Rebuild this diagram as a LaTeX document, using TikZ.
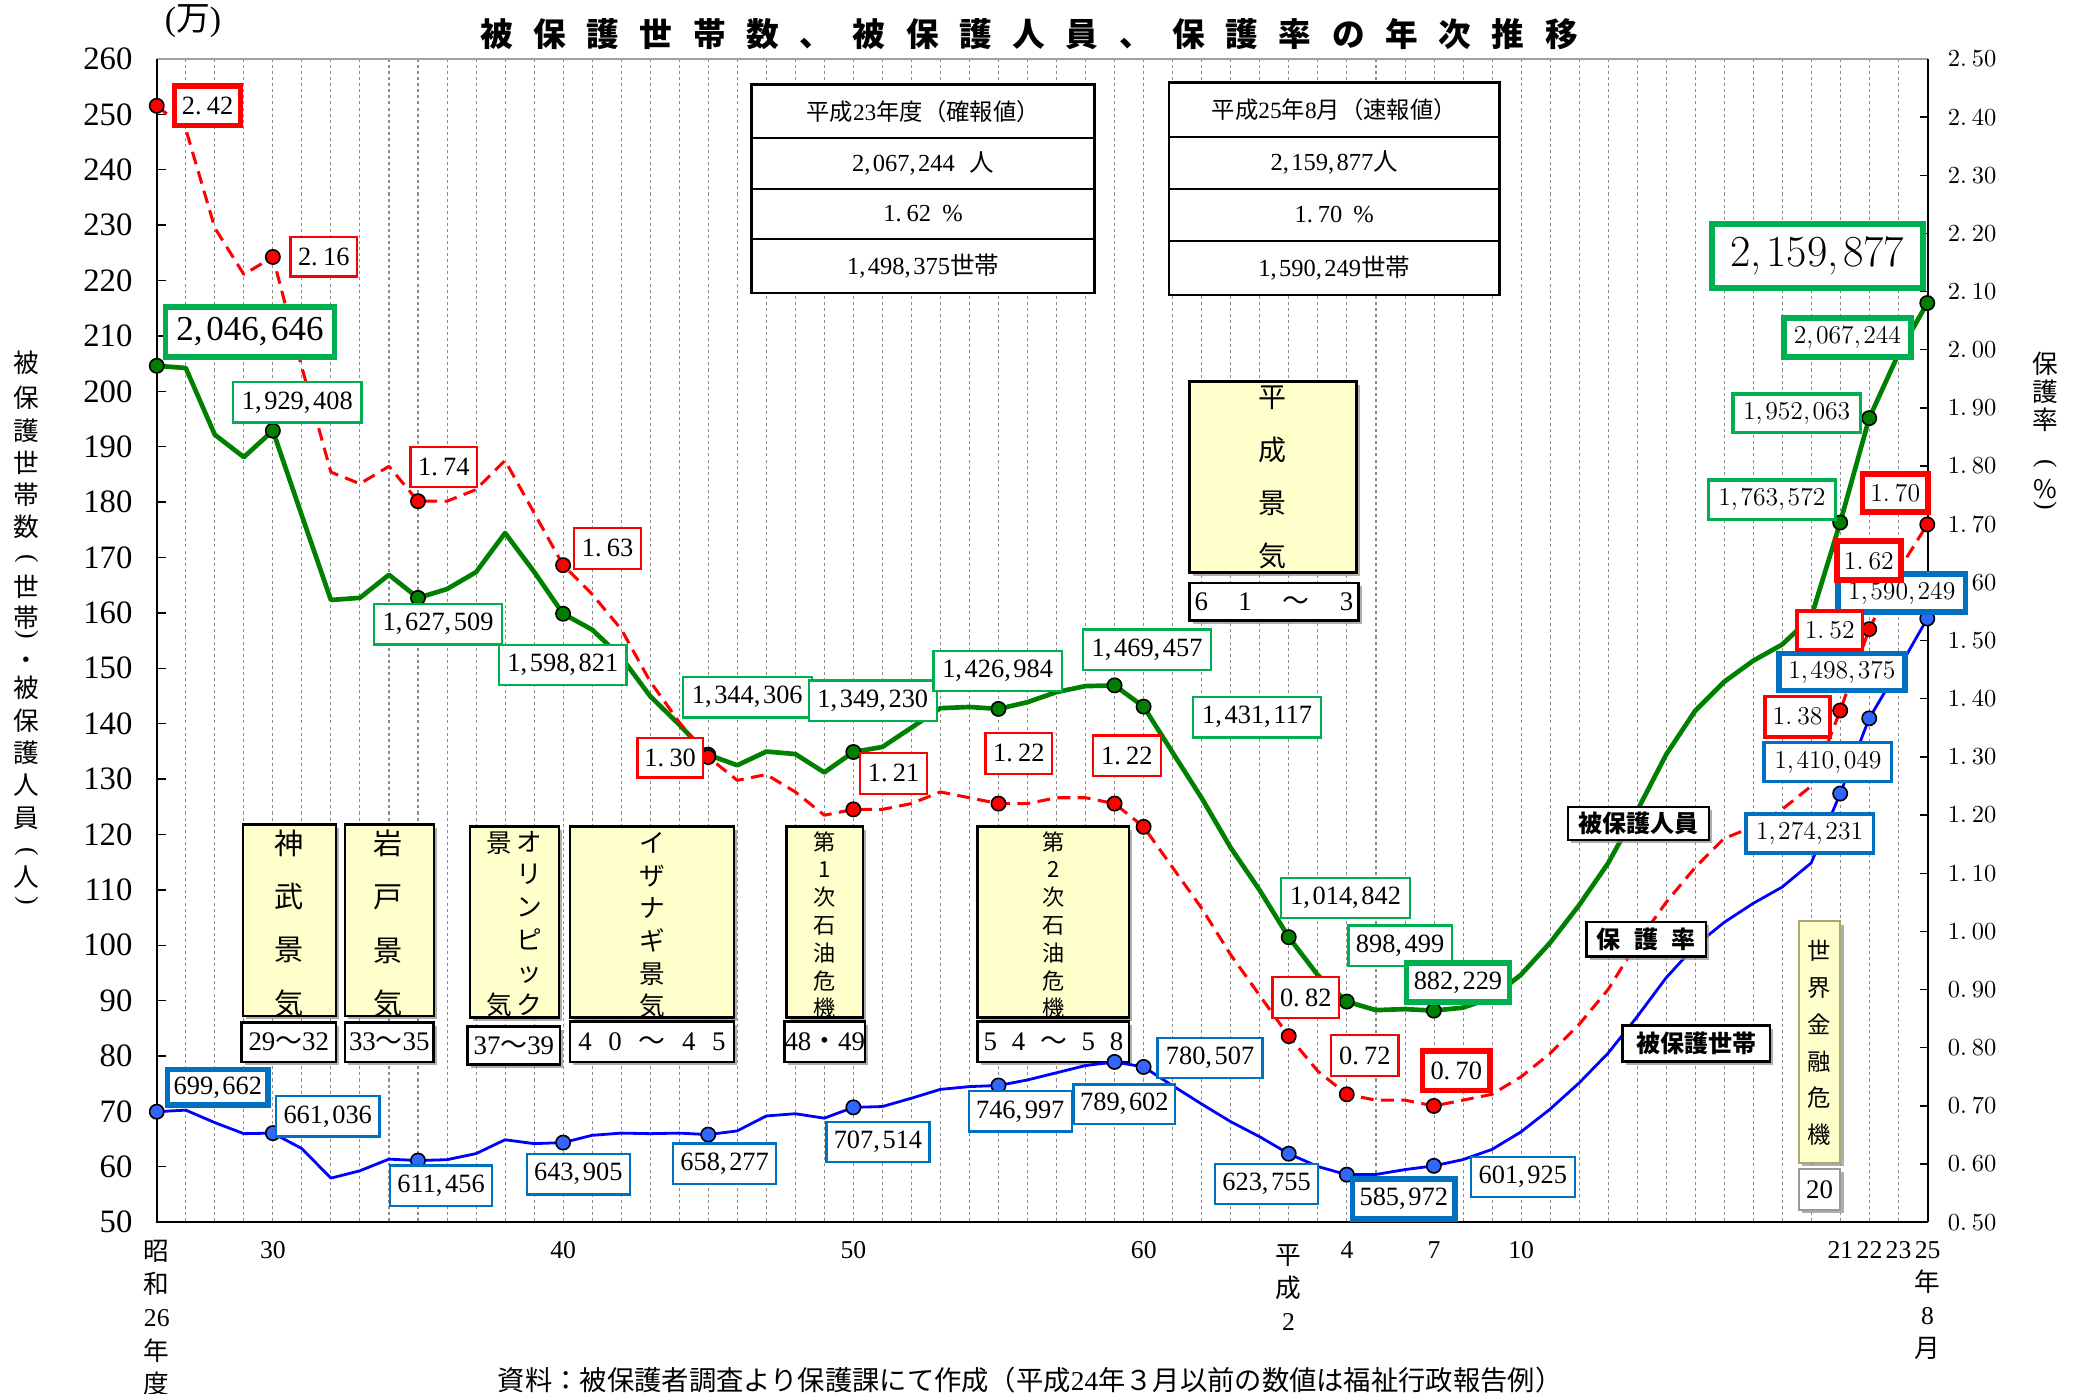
\documentclass[tikz,border=0pt]{standalone}
\usepackage{fontspec}
\usepackage{graphicx}
\usetikzlibrary{shadows}
\newfontfamily\jp{Noto Sans CJK JP}
\newfontfamily\lib{Liberation Serif}
\definecolor{gline}{HTML}{008000}
\definecolor{gbox}{HTML}{00B050}
\definecolor{rline}{HTML}{FF0000}
\definecolor{bline}{HTML}{0000FF}
\definecolor{bmark}{HTML}{3366FF}
\definecolor{bbox}{HTML}{0070C0}
\definecolor{ybox}{HTML}{FFFFCC}
\definecolor{gridc}{HTML}{8C8C8C}
\definecolor{framec}{HTML}{A0A0A0}
\definecolor{olivec}{HTML}{A8A870}
\newcommand{\cmk}{,\kern.1em}
\newcommand{\dtk}{.\kern.2em}
\newcommand{\vpa}{\rotatebox[origin=c]{-90}{\lib(}}
\newcommand{\vpb}{\rotatebox[origin=c]{-90}{\lib)}}
\tikzset{
  px/.style 2 args={minimum width={(#1)*0.02cm}, minimum height={(#2)*0.02cm}},
  lab/.style={draw, fill=white, inner sep=0pt},
  mf/.style={font=\lib\fontsize{11.3}{13}\selectfont},
  cf/.style={font=\rmfamily\fontsize{11}{13}\selectfont},
  thn/.style={line width=1pt},
  med/.style={line width=1.5pt},
  thk/.style={line width=2.4pt},
  gb/.style={lab, draw=gbox},
  rb/.style={lab, draw=rline},
  bb/.style={lab, draw=bbox},
  shd/.style={drop shadow={shadow xshift=1.4pt, shadow yshift=-1.4pt, fill=black!45, opacity=0.7}},
  ybx/.style={draw=black, line width=1.1pt, fill=ybox, shd, inner sep=0pt},
  pbx/.style={draw=black, line width=1.1pt, fill=white, shd, inner sep=0pt, font=\lib\fontsize{11.5}{13}\selectfont},
  vt/.style={align=center, inner sep=0pt},
  leg/.style={draw=black, line width=1.1pt, fill=white, shd, inner sep=0pt, font=\jp\bfseries\fontsize{10.3}{12}\selectfont},
  tbl/.style={draw=black, line width=1pt, fill=white, inner sep=0pt, font=\lib\fontsize{10.5}{12}\selectfont},
  mk/.style={circle, draw=black, line width=0.7pt, inner sep=0pt, minimum size=0.215cm},
  gmk/.style={mk, fill=gline},
  rmk/.style={mk, fill=rline},
  bmk/.style={mk, fill=bmark},
  gln/.style={draw=gline, line width=2pt, line join=round},
  bln/.style={draw=bline, line width=1.2pt, line join=round},
  rln/.style={draw=rline, line width=1.3pt, dash pattern=on 5.5pt off 3.2pt, line join=round},
  gridl/.style={draw=gridc, line width=0.45pt, dash pattern=on 1.3pt off 1.3pt},
  ylab/.style={anchor=east, inner sep=0pt, font=\lib\fontsize{14}{16}\selectfont},
  rlab/.style={anchor=west, inner sep=0pt, font=\rmfamily\fontsize{10.5}{12}\selectfont},
  xlab/.style={inner sep=0pt, align=center, font=\lib\fontsize{11}{14.2}\selectfont},
  vchar/.style={inner sep=0pt, font=\jp\fontsize{11}{13}\selectfont},
}
\begin{document}
\begin{tikzpicture}[x=0.02cm, y=-0.02cm]
\fill[white] (0,0) rectangle (1568,1048.6);
\useasboundingbox (0,0) rectangle (1568,1048.6);

% grid
\foreach \i in {1,...,60}{\draw[gridl] ({118+21.852*\i},44.4) -- ({118+21.852*\i},920);}

% frame
\draw[framec, line width=0.6pt] (118,44.4) -- (1451,44.4);
\draw[black, line width=0.7pt] (118,44.4) -- (118,920);
\draw[black, line width=0.8pt] (1451,44.4) -- (1451,920);
\draw[black, line width=1.1pt] (117.5,920) -- (1451.5,920);
\foreach \k in {1,...,20}{\draw[line width=0.6pt] (118,{920-41.695*\k}) -- (125,{920-41.695*\k});}
\foreach \k in {1,...,19}{\draw[line width=0.6pt] (1451,{920-43.78*\k}) -- (1445,{920-43.78*\k});}

% axis labels
\foreach \k in {0,...,21}{\pgfmathtruncatemacro\vv{50+10*\k}\node[ylab] (yl\k) at (100,{920-41.695*\k}) {\vv};}
\foreach \k/\a/\b in {0/0/50,1/0/60,2/0/70,3/0/80,4/0/90,5/1/00,6/1/10,7/1/20,8/1/30,9/1/40,10/1/50,11/1/60,12/1/70,13/1/80,14/1/90,15/2/00,16/2/10,17/2/20,18/2/30,19/2/40,20/2/50}{\node[rlab] (rl\k) at (1466,{920-43.78*\k}) {\a\dtk\b};}

\foreach \t/\i in {30/4,40/14,50/24,60/34,4/41,7/44,10/47,21/58,22/59,23/60}{\node[xlab] (x\t) at ({118+21.852*\i},941) {\t};}
\node[xlab] (xs) at (118,992) {{\jp 昭}\\{\jp 和}\\26\\{\jp 年}\\{\jp 度}};
\node[xlab] (xh) at (970,969) {{\jp 平}\\{\jp 成}\\2};
\node[xlab] (xe) at (1451,979) {25\\{\jp 年}\\8\\{\jp 月}};

\foreach \ch/\yy [count=\n] in {被/272.9,保/299.8,護/324.3,世/348.4,帯/372.3,数/396.8,\vpa/421.3,世/441.5,帯/465.1,\vpb/478.9,・/499.1,被/517.8,保/542.3,護/566.8,人/591.3,員/615.8,\vpa/641.7,人/660.4,\vpb/679.1}{\node[vchar] (lt\n) at (20,\yy) {\ch};}
\foreach \ch/\yy [count=\n] in {保/273.5,護/294.9,率/316.2,\vpa/350.1,\%/368.4,\vpb/381.4}{\node[vchar] (rt\n) at (1539.5,\yy) {\ch};}

\node[inner sep=0pt, font=\lib\fontsize{14.5}{16}\selectfont] (man) at (145.3,15.7) {({\jp 万})};
\node[anchor=west, inner sep=0pt, font=\jp\bfseries\fontsize{14}{15}\selectfont\addfontfeature{LetterSpace=63}] (title) at (361,26) {被保護世帯数、被保護人員、保護率の年次推移};
\node[inner sep=0pt, font=\jp\fontsize{11.7}{13}\selectfont] (src) at (775.5,1039) {資料：被保護者調査より保護課にて作成（平成{\lib 24}年３月以前の数値は福祉行政報告例）};

% tables
\node[tbl, font=\lib\fontsize{10}{12}\selectfont, px={258.3}{40.6}] (t1a) at (694.85,83.8) {{\jp 平成}23{\jp 年度（確報値）}};
\node[tbl, px={258.3}{38.2}] (t1b) at (694.85,123.2) {2\cmk067\cmk244\ \kern.35em{\jp 人}};
\node[tbl, px={258.3}{37.6}] (t1c) at (694.85,161.1) {1\dtk62\ \kern.2em\%};
\node[tbl, px={258.3}{40.9}] (t1d) at (694.85,200.35) {1\cmk498\cmk375{\jp 世帯}};
\node[tbl, font=\lib\fontsize{10}{12}\selectfont, px={248.9}{40.7}] (t2a) at (1004.35,82.55) {{\jp 平成}25{\jp 年}8{\jp 月（速報値）}};
\node[tbl, px={248.9}{39.4}] (t2b) at (1004.35,122.6) {2\cmk159\cmk877{\jp 人}};
\node[tbl, px={248.9}{39.1}] (t2c) at (1004.35,161.85) {1\dtk70\ \kern.2em\%};
\node[tbl, px={248.9}{40.6}] (t2d) at (1004.35,201.7) {1\cmk590\cmk249{\jp 世帯}};

% economic periods
\node[ybx, px={70}{144}] (yb1) at (217.85,692.8) {};
\node[vt, font=\jp\fontsize{12.5}{22.8}\selectfont] (yt1) at (217.9,695.1) {神\\武\\景\\気};
\node[ybx, px={67}{144}] (yb2) at (293.05,692.8) {};
\node[vt, font=\jp\fontsize{12.5}{22.8}\selectfont] (yt2) at (292.5,695.1) {岩\\戸\\景\\気};
\node[ybx, px={67}{144}] (yb3) at (387.25,694.1) {};
\node[vt, font=\jp\fontsize{11}{14}\selectfont] (yt3a) at (398.6,695.1) {オ\\リ\\ン\\ピ\\ッ\\ク};
\node[vt, font=\jp\fontsize{11}{69.3}\selectfont] (yt3b) at (376.2,695.8) {景\\気};
\node[ybx, px={123.3}{144}] (yb4) at (490.75,694.1) {};
\node[vt, font=\jp\fontsize{11}{14}\selectfont] (yt4) at (490.7,696.4) {イ\\ザ\\ナ\\ギ\\景\\気};
\node[ybx, px={57.7}{144}] (yb5) at (620.85,694.1) {};
\node[vt, font=\jp\fontsize{9.5}{11.9}\selectfont] (yt5) at (620.8,696.3) {第\\1\\次\\石\\油\\危\\機};
\node[ybx, px={114}{144}] (yb6) at (793,694.1) {};
\node[vt, font=\jp\fontsize{9.5}{11.9}\selectfont] (yt6) at (793,696.3) {第\\2\\次\\石\\油\\危\\機};
\node[ybx, px={126}{144}] (yb7) at (958.2,359) {};
\node[vt, font=\jp\fontsize{12}{22.6}\selectfont] (yt7) at (958,359.4) {平\\成\\景\\気};
\node[ybx, draw=olivec, line width=0.7pt, px={31}{182}] (yb8) at (1369.75,784.5) {};
\node[vt, font=\jp\fontsize{10}{15.8}\selectfont] (yt8) at (1369.7,785) {世\\界\\金\\融\\危\\機};

\node[pbx, px={71}{30}] (p1) at (217.4,784.5) {29{\jp ～}32};
\node[pbx, px={66.7}{30}] (p2) at (293.05,784.5) {33{\jp ～}35};
\node[pbx, px={69.4}{28.6}] (p3) at (386.8,786.9) {37{\jp ～}39};
\node[pbx, px={123.3}{30.5}] (p4) at (490.75,784.25) {4\hspace{0.62em}0\hspace{0.62em}{\jp ～}\hspace{0.62em}4\hspace{0.62em}5};
\node[pbx, px={57.7}{30.5}] (p5) at (620.85,784.25) {48{\jp ・}49};
\node[pbx, px={114}{30.5}] (p6) at (793,784.25) {5\hspace{0.55em}4\hspace{0.55em}{\jp ～}\hspace{0.55em}5\hspace{0.55em}8};
\node[pbx, px={127.5}{28}] (p7) at (959,453) {6\hspace{1.13em}1\hspace{1.13em}{\jp ～}\hspace{1.15em}3};
\node[pbx, draw=gray!80, line width=0.7pt, px={31}{31}] (p8) at (1369.75,895.45) {20};

% data lines
\begin{scope}[shift={(118,1128.5)}, x=0.43705cm, y=0.08339cm]
\draw[gln] plot coordinates {(0,204.66) (1,204.26) (2,192.21) (3,188.17) (4,192.94) (5,177.60) (6,162.37) (7,162.76) (8,166.92) (9,162.75) (10,164.34) (11,167.40) (12,174.46) (13,167.47) (14,159.88) (15,157.01) (16,152.07) (17,145.00) (18,139.87) (19,134.43) (20,132.52) (21,135.0) (22,134.55) (23,131.23) (24,134.92) (25,135.83) (26,139.31) (27,142.83) (28,143.05) (29,142.70) (30,143.92) (31,145.74) (32,146.82) (33,146.95) (34,143.11) (35,134.82) (36,126.61) (37,117.63) (38,109.95) (39,101.48) (40,94.64) (41,89.85) (42,88.31) (43,88.49) (44,88.22) (45,88.75) (46,90.56) (47,94.70) (48,100.45) (49,107.22) (50,114.81) (51,124.27) (52,134.43) (53,142.34) (54,147.58) (55,151.39) (56,154.33) (57,159.26) (58,176.36) (59,195.21) (60,206.72) (61,215.99)};
\draw[bln] plot coordinates {(0,69.97) (1,70.25) (2,68.0) (3,66.0) (4,66.10) (5,63.3) (6,57.97) (7,59.3) (8,61.4) (9,61.15) (10,61.3) (11,62.4) (12,64.9) (13,64.2) (14,64.39) (15,65.7) (16,66.1) (17,66.0) (18,66.1) (19,65.83) (20,66.5) (21,69.2) (22,69.6) (23,68.8) (24,70.75) (25,70.9) (26,72.4) (27,74.0) (28,74.5) (29,74.70) (30,75.7) (31,77.0) (32,78.3) (33,78.96) (34,78.05) (35,74.66) (36,71.35) (37,68.17) (38,65.44) (39,62.38) (40,60.07) (41,58.60) (42,58.63) (43,59.51) (44,60.19) (45,61.31) (46,63.15) (47,66.31) (48,70.41) (49,75.13) (50,80.52) (51,87.09) (52,94.13) (53,99.89) (54,104.15) (55,107.58) (56,110.53) (57,114.88) (58,127.42) (59,141.00) (60,149.84) (61,159.02)};
\end{scope}
\begin{scope}[shift={(118,1138.9)}, x=0.43705cm, y=8.756cm]
\draw[rln] plot coordinates {(0,2.42) (1,2.38) (2,2.21) (3,2.13) (4,2.16) (5,1.97) (6,1.79) (7,1.77) (8,1.80) (9,1.74) (10,1.74) (11,1.76) (12,1.81) (13,1.72) (14,1.63) (15,1.58) (16,1.52) (17,1.43) (18,1.36) (19,1.30) (20,1.26) (21,1.27) (22,1.24) (23,1.20) (24,1.21) (25,1.21) (26,1.22) (27,1.24) (28,1.23) (29,1.22) (30,1.22) (31,1.23) (32,1.23) (33,1.22) (34,1.18) (35,1.11) (36,1.04) (37,0.96) (38,0.89) (39,0.82) (40,0.76) (41,0.72) (42,0.71) (43,0.71) (44,0.70) (45,0.71) (46,0.72) (47,0.75) (48,0.79) (49,0.84) (50,0.90) (51,0.98) (52,1.05) (53,1.11) (54,1.16) (55,1.18) (56,1.21) (57,1.25) (58,1.38) (59,1.52) (60,1.62) (61,1.70)};
\end{scope}

% markers
\begin{scope}[shift={(118,1128.5)}, x=0.43705cm, y=0.08339cm]
\foreach \i/\v in {0/204.66,4/192.94,9/162.75,14/159.88,19/134.43,24/134.92,29/142.70,33/146.95,34/143.11,39/101.48,41/89.85,44/88.22,58/176.36,59/195.21,61/215.99}{\node[gmk] (gm\i) at (\i,\v) {};}
\foreach \i/\v in {0/69.97,4/66.10,9/61.15,14/64.39,19/65.83,24/70.75,29/74.70,33/78.96,34/78.05,39/62.38,41/58.60,44/60.19,58/127.42,59/141.00,61/159.02}{\node[bmk] (bm\i) at (\i,\v) {};}
\end{scope}
\begin{scope}[shift={(118,1138.9)}, x=0.43705cm, y=8.756cm]
\foreach \i/\v in {0/2.42,4/2.16,9/1.74,14/1.63,19/1.30,24/1.21,29/1.22,33/1.22,34/1.18,39/0.82,41/0.72,44/0.70,58/1.38,59/1.52,61/1.70}{\node[rmk] (rm\i) at (\i,\v) {};}
\end{scope}

% blue labels
\node[bb, thk, mf, px={75.8}{26.8}] (b1) at (164,818.6) {699\cmk662};
\node[bb, thn, mf, px={77.9}{30.4}] (b2) at (246.7,840.3) {661\cmk036};
\node[bb, thn, mf, px={76.8}{30.4}] (b3) at (332,892.5) {611\cmk456};
\node[bb, thn, mf, px={77.4}{30.7}] (b4) at (435.3,883.9) {643\cmk905};
\node[bb, thn, mf, px={77.4}{30.4}] (b5) at (545.5,876) {658\cmk277};
\node[bb, thn, mf, px={77.4}{30.4}] (b6) at (660.9,859.7) {707\cmk514};
\node[bb, thn, mf, px={77.4}{30.4}] (b7) at (768,836.6) {746\cmk997};
\node[bb, thn, mf, px={76.4}{29.8}] (b8) at (846.4,831.2) {789\cmk602};
\node[bb, thn, mf, px={79}{30.4}] (b9) at (910.9,796.5) {780\cmk507};
\node[bb, thn, mf, px={77.7}{30.2}] (b10) at (953.4,891.2) {623\cmk755};
\node[bb, thk, mf, px={77.4}{30.2}] (b11) at (1056.7,902.5) {585\cmk972};
\node[bb, thn, mf, px={78.4}{30.2}] (b12) at (1146.3,886.1) {601\cmk925};
\node[bb, med, cf, px={96}{29.4}] (b13) at (1362.2,627.4) {1\cmk274\cmk231};
\node[bb, med, cf, px={96}{29.4}] (b14) at (1376,573.7) {1\cmk410\cmk049};
\node[bb, thk, cf, px={94.8}{27.8}] (b15) at (1386.5,505.8) {1\cmk498\cmk375};
\node[bb, thk, cf, px={96.1}{28.4}] (b16) at (1431.6,446.3) {1\cmk590\cmk249};

% green labels
\node[gb, thk, font=\lib\fontsize{15}{17}\selectfont, px={127}{38}] (g1) at (188.2,249.9) {2\cmk046\cmk646};
\node[gb, thn, mf, px={96.4}{30.4}] (g2) at (223.8,302.8) {1\cmk929\cmk408};
\node[gb, thn, mf, px={96.4}{30.4}] (g3) at (329.8,469.9) {1\cmk627\cmk509};
\node[gb, thn, mf, px={96}{30}] (g4) at (423.7,500.7) {1\cmk598\cmk821};
\node[gb, thn, mf, px={97}{30.4}] (g5) at (562.5,524.8) {1\cmk344\cmk306};
\node[gb, thn, mf, px={96.4}{30.4}] (g6) at (657,527.4) {1\cmk349\cmk230};
\node[gb, thn, mf, px={96.4}{30}] (g7) at (751,505) {1\cmk426\cmk984};
\node[gb, thn, mf, px={96.4}{30.4}] (g8) at (863.5,489) {1\cmk469\cmk457};
\node[gb, thn, mf, px={96.4}{30.4}] (g9) at (946.3,539.9) {1\cmk431\cmk117};
\node[gb, thn, mf, px={97}{30.2}] (g10) at (1012.9,675.9) {1\cmk014\cmk842};
\node[gb, thn, mf, px={77.8}{30.8}] (g11) at (1053.9,712) {898\cmk499};
\node[gb, thk, mf, px={77.4}{29.6}] (g12) at (1097.5,739.6) {882\cmk229};
\node[gb, med, cf, px={95.8}{29.6}] (g13) at (1333.8,376.1) {1\cmk763\cmk572};
\node[gb, med, cf, px={96}{29}] (g14) at (1352.5,311) {1\cmk952\cmk063};
\node[gb, thk, cf, px={95.6}{29.2}] (g15) at (1390.7,254.1) {2\cmk067\cmk244};
\node[gb, thk, font=\rmfamily\fontsize{19}{21}\selectfont, px={159}{48}] (g16) at (1368,192.7) {2\cmk159\cmk877};

% red labels
\node[rb, thk, mf, px={49.6}{29.7}] (r1) at (156.3,79.7) {2\dtk42};
\node[rb, thn, mf, px={50}{29.5}] (r2) at (243.7,193.3) {2\dtk16};
\node[rb, thn, mf, px={50.2}{30.4}] (r3) at (334.1,351.6) {1\dtk74};
\node[rb, thn, mf, px={50.2}{30.9}] (r4) at (457.4,412.8) {1\dtk63};
\node[rb, thn, mf, px={49.4}{29.8}] (r5) at (504.5,570.3) {1\dtk30};
\node[rb, thn, mf, px={50.2}{31}] (r6) at (672.7,582.2) {1\dtk21};
\node[rb, thn, mf, px={50.1}{31}] (r7) at (766.9,567.1) {1\dtk22};
\node[rb, thn, mf, px={51}{30.3}] (r8) at (848.3,568.8) {1\dtk22};
\node[rb, thn, mf, px={50.1}{30.8}] (r9) at (982.9,750.9) {0\dtk82};
\node[rb, thn, mf, px={50.5}{30.5}] (r10) at (1027.4,794.5) {0\dtk72};
\node[rb, thk, mf, px={50.8}{29.6}] (r11) at (1096.2,806.1) {0\dtk70};
\node[rb, thk, cf, px={49.5}{28.5}] (r12) at (1426.6,371) {1\dtk70};
\node[rb, thk, cf, px={48.3}{29.4}] (r13) at (1406.8,422.1) {1\dtk62};
\node[rb, med, cf, px={49.4}{29.4}] (r14) at (1377.3,474.5) {1\dtk52};
\node[rb, med, cf, px={48.9}{30.4}] (r15) at (1353.2,539.5) {1\dtk38};

% legend
\node[leg, px={106}{25}] (lg1) at (1233.35,619.85) {被保護人員};
\node[leg, px={90}{26}] (lg2) at (1239.2,707.15) {保\hspace{0.55em}護\hspace{0.55em}率};
\node[leg, px={111}{27}] (lg3) at (1277,785.5) {被保護世帯};
\end{tikzpicture}
\end{document}
